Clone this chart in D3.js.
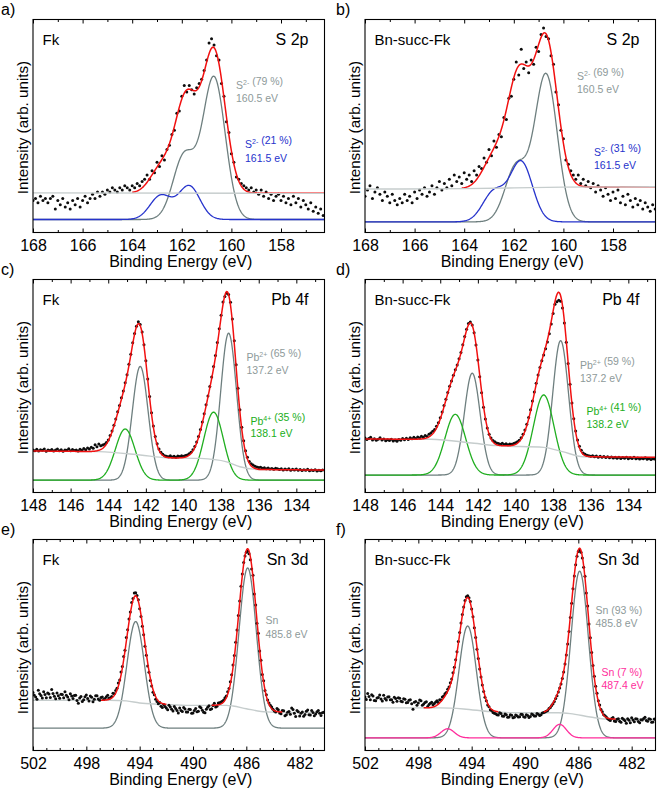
<!DOCTYPE html>
<html><head><meta charset="utf-8">
<script src="https://cdn.jsdelivr.net/npm/d3@7"></script>
<style>
body{margin:0;background:#fff}
svg{display:block}
text{font-family:"Liberation Sans",Arial,Helvetica,sans-serif}
</style>
</head><body>
<svg id="chart" width="660" height="791"></svg>
<script>
// ---------------- DATA (intensity in arb. units, 0-100 of frame height) ----------------
// energy grids: start energy and step (eV) for each panel's measured points
const sStart = 168.0, sStep = 0.1;
const pbStart = 148.0, pbStep = 0.1;
const snStart = 502.0, snStep = 0.1;

// a) S 2p, Fk — measured points
const aDots = [
 15,16,14,17,15,16,14,16,
 17,11,15,13,16,12,14,11,15,13,
 16,12,15,17,14,16,18,16,19,17,
 19,18,20,19,21,20,19,21,20,22,
 21,20,22,21,23,22,24,25,27,25,
 29,28,33,31,36,34,39,41,46,48,
 56,57,64,69,66,69,67,65,68,70,
 72,76,81,89,91,88,83,81,70,64,
 52,47,37,33,26,25,23,22,21,20,
 21,19,20,18,20,17,19,16,18,15,
 17,18,15,17,14,16,13,17,14,16,
 12,15,13,11,14,10,12,9,11,8];
// b) S 2p, Bn-succ-Fk
const bDots = [
 17,20,22,16,19,21,18,15,
 19,17,14,18,15,13,16,14,18,15,
 17,14,19,16,20,18,21,17,19,22,
 18,21,24,20,23,21,25,22,27,24,
 26,23,28,25,27,24,29,27,31,30,
 35,33,39,36,43,40,46,45,54,53,
 63,64,72,80,74,86,77,80,75,81,
 79,87,85,93,96,92,91,83,79,66,
 60,48,44,34,32,29,27,25,27,23,
 25,22,24,21,23,19,22,20,17,21,
 18,15,19,16,20,14,17,13,18,15,
 12,16,13,15,11,14,12,10,13,11];
// c) Pb 4f, Fk
const cDots = [
 20,19.6,20.3,19.5,20.1,19.8,20.4,19.4,20.0,19.7,
 20.2,19.5,19.9,20.4,19.6,20.1,19.4,20.0,19.8,20.5,
 19.6,20.2,19.7,20.0,19.5,20.3,19.8,20.6,20.1,20.9,
 20.4,21.3,20.8,22.4,21.5,22.8,21.9,22.3,22.6,23.5,
 24.6,26.8,28.9,31.6,34.5,37.9,40.8,44.5,47.6,51.5,
 55.3,60.2,64.9,70.3,74.6,78.1,80.2,78.9,75.4,69.4,
 61.8,53.3,45.1,37.4,31.2,26.3,22.9,20.4,18.9,17.9,
 17.3,17.0,16.8,17.2,16.7,17.0,16.6,17.1,16.9,17.3,
 17.0,17.4,17.6,18.2,18.9,20.1,21.6,23.7,26.3,29.6,
 33.1,37.0,41.2,45.3,49.8,54.2,59.1,64.3,70.4,76.9,
 83.2,89.4,92.0,93.6,93.0,89.3,81.4,71.2,60.0,48.9,
 38.9,30.6,24.3,19.6,16.5,14.6,13.5,12.9,12.3,12.0,
 11.7,11.9,11.4,11.6,11.2,11.5,11.0,11.3,10.9,11.4,
 11.1,10.8,11.2,10.6,11.0,10.7,11.1,10.5,10.9,10.6,
 11.0,10.4,10.8,10.3,10.7,10.4,10.9,10.2,10.6,10.3,
 10.7,10.1,10.5,10.2,10.6];
// d) Pb 4f, Bn-succ-Fk
const dDots = [
 25.6,24.9,25.3,25.9,24.7,25.2,24.5,25.0,25.7,24.6,
 25.1,24.3,24.8,24.4,25.0,24.2,24.7,24.1,24.9,24.5,
 25.3,24.8,25.5,24.9,25.7,25.2,25.9,25.4,26.1,25.6,
 26.4,25.9,26.8,26.3,27.4,27.9,28.8,29.6,31.1,32.8,
 35.1,37.8,40.9,43.8,47.0,49.9,52.4,55.1,57.6,59.9,
 62.8,65.7,69.4,73.2,76.6,79.3,80.1,78.6,75.0,69.3,
 62.2,54.4,46.8,40.0,34.5,30.3,27.4,25.6,24.4,23.8,
 23.2,23.0,22.6,23.1,22.5,22.9,22.4,22.8,22.6,23.0,
 23.3,23.8,24.5,25.7,27.3,29.4,32.0,35.2,38.9,43.0,
 47.2,51.3,55.2,58.7,61.8,64.6,67.5,70.6,74.5,79.1,
 84.0,88.4,89.5,90.2,89.8,86.6,79.6,70.5,60.6,50.8,
 42.0,34.6,28.9,24.6,21.7,19.8,18.6,17.9,17.5,17.2,
 17.0,17.3,16.8,17.1,16.6,17.0,16.5,16.9,16.4,16.8,
 16.3,16.7,16.2,16.6,16.1,16.5,16.0,16.4,16.1,16.6,
 15.9,16.3,16.0,16.5,15.8,16.2,15.7,16.1,15.8,16.3,
 15.6,16.0,15.5,15.9,15.7];
// e) Sn 3d, Fk
const eDots = [
 27.5,26.2,25.4,24.3,28.6,26.9,26.1,24.9,27.9,26.5,
 25.0,27.3,26.8,25.1,28.9,27.0,25.7,24.5,27.2,26.0,
 24.8,26.7,26.5,25.0,27.8,26.2,25.3,24.0,26.9,25.8,
 24.6,26.1,26.2,23.7,22.4,24.9,25.6,23.2,24.1,25.5,
 26.3,24.7,23.5,25.8,25.2,23.1,24.3,26.0,25.9,24.4,
 23.8,25.1,25.4,24.2,24.6,25.5,26.2,24.8,25.0,25.6,
 27.1,26.9,28.4,29.5,32.0,33.4,37.2,39.8,44.6,47.5,
 53.5,57.2,62.3,65.6,70.1,72.0,74.6,74.8,73.5,71.4,
 67.2,63.5,58.9,54.8,49.4,45.2,40.1,37.1,33.2,30.6,
 27.6,26.4,24.3,23.2,22.1,22.8,21.0,20.4,21.8,20.9,
 20.2,19.3,21.5,20.6,19.6,18.7,20.8,19.9,18.9,17.8,
 20.1,19.0,18.5,20.4,19.7,18.3,18.2,19.6,19.4,17.6,
 17.8,18.9,19.9,18.4,18.6,20.7,20.3,19.1,18.1,17.9,
 19.6,20.5,21.2,19.4,19.8,21.3,22.4,20.6,21.0,22.5,
 22.6,23.0,23.4,23.9,25.0,25.8,27.8,29.4,32.6,35.9,
 40.5,45.0,51.3,57.1,64.0,70.8,77.9,83.6,89.1,92.2,
 94.0,94.6,93.2,90.4,86.0,83.0,74.2,68.9,60.3,55.6,
 47.2,42.8,36.0,33.0,28.4,26.4,23.9,22.5,21.5,20.6,
 19.6,18.7,18.2,19.9,19.3,17.8,17.4,18.9,18.8,16.5,
 16.9,18.1,18.5,17.2,20.1,19.4,17.6,16.1,19.0,18.4,
 16.4,17.7,18.3,16.2,17.1,18.6,19.2,17.0,16.8,18.9,
 18.0,16.5,17.3,18.4,19.0,17.7,16.6,17.9,18.1];
// f) Sn 3d, Bn-succ-Fk
const fDots = [
 25.3,24.2,27.0,25.6,24.1,26.4,25.8,23.7,23.6,24.9,
 25.1,26.3,24.4,23.5,26.2,24.7,23.9,25.4,25.5,24.1,
 24.0,22.9,25.2,24.6,23.4,25.0,24.8,23.3,23.1,24.5,
 24.3,22.6,22.7,23.8,24.0,22.1,19.6,22.9,23.2,21.5,
 22.5,23.9,23.6,21.4,22.0,22.8,23.1,20.9,21.8,22.4,
 22.9,21.7,22.3,23.0,23.6,22.8,24.0,23.9,25.3,25.8,
 26.9,27.5,29.0,30.1,32.1,33.9,36.8,39.5,43.0,46.8,
 51.6,55.9,60.4,64.5,68.0,71.1,72.9,73.4,72.4,70.6,
 67.1,63.4,58.2,53.5,48.0,43.6,38.6,34.8,31.0,28.0,
 25.2,23.6,21.6,20.7,19.3,19.0,18.0,17.6,17.4,16.9,
 16.8,17.9,17.5,16.4,16.2,17.3,17.0,15.8,15.9,16.9,
 16.7,15.5,15.7,16.8,16.5,15.9,16.0,17.2,17.1,16.0,
 15.8,17.0,16.6,15.6,16.1,17.3,17.0,16.4,16.3,17.5,
 17.2,16.6,16.9,17.8,18.0,18.3,18.6,19.0,19.9,20.4,
 21.3,22.2,23.2,24.6,26.0,27.7,29.6,31.5,34.1,37.2,
 41.0,45.3,50.5,56.4,63.0,69.8,76.6,82.7,88.0,92.1,
 94.3,95.0,94.0,91.2,86.8,82.6,74.6,68.5,60.0,53.4,
 46.4,40.3,35.2,30.4,27.1,23.6,21.6,19.4,18.4,17.0,
 16.5,15.9,15.1,14.6,14.2,15.2,15.6,14.0,13.8,14.8,
 15.0,13.9,13.4,15.3,14.7,14.1,12.9,15.0,14.3,13.1,
 15.5,14.4,13.6,15.1,14.9,13.7,13.2,14.6,14.5,15.2,
 15.7,14.2,13.9,15.0,14.8,13.4,13.5,14.9,14.6];

// fitted components: [centre (eV), height above component baseline, sigma (eV)]
const aGrayPeaks = [[160.7,66.4,0.45],[161.9,30,0.45]];
const aBluePeaks = [[161.7,15.7,0.43],[162.85,11.2,0.43]];
const bGrayPeaks = [[160.7,69,0.45],[161.9,26,0.45]];
const bBluePeaks = [[161.7,28,0.45],[162.8,14,0.45]];
const cGrayPeaks = [[142.3,53.4,0.42],[137.6,69,0.42]];
const cGreenPeaks = [[143.1,24,0.52],[138.4,31.9,0.52]];
const dGrayPeaks = [[142.3,47.8,0.42],[137.6,63.1,0.42]];
const dGreenPeaks = [[143.2,28.5,0.55],[138.5,37.6,0.55]];
const eGrayPeaks = [[494.3,50.5,0.65],[485.9,75.9,0.65]];
const fGrayPeaks = [[494.3,53,0.65],[485.9,79,0.65]];
const fPinkPeaks = [[495.8,4.3,0.5],[487.4,6.4,0.5]];

// component baselines
const componentBase = {a:6.1, b:5.0, c:5.8, d:8.2, e:10.6, f:6.0};

// Shirley backgrounds: [energy, intensity]
const aBg = [[168,18.6],[156.2,18.4]];
const bBg = [[168,20.4],[164,20.6],[160,21.3],[156.2,21.5]];
const cBg = [[148,19.5],[144.5,19.2],[142.3,17.6],[140.9,16.3],[139.1,16.0],[137.7,14.4],[137.0,12.1],[136.0,10.8],[132.4,10.5]];
const dBg = [[148,25.1],[144.5,25.0],[142.2,23.1],[141.0,22.0],[138.5,21.2],[137.5,19.2],[136.4,16.8],[132.4,16.5]];
const eBg = [[502,23.8],[496.25,23.8],[495,23.5],[494,22.5],[492.5,21.9],[490.5,21.4],[487.5,21.4],[487,21.1],[486,19.8],[484.5,18.3],[480,17.9]];
const fBg = [[502,20.2],[496.4,20.2],[494.6,19.7],[492.6,18.4],[490.5,17.9],[487.5,17.9],[486.6,17.5],[485.1,15.9],[483.9,14.9],[480,14.8]];

// fit (envelope) energy windows
const aFit = [[164.0,156.2]];
const bFit = [[164.1,156.2]];
const cFit = [[148,132.4]];
const dFit = [[148,132.4]];
const eFit = [[496.9,492.0],[488.6,483.3]];
const fFit = [[497.6,492.0],[488.6,483.2]];

// tick labels
const sTicks = [168,166,164,162,160,158];
const pbTicks = [148,146,144,142,140,138,136,134];
const snTicks = [502,498,494,490,486,482];

// texts
const panelLetters = ["a)","b)","c)","d)","e)","f)"];
const samples = ["Fk","Bn-succ-Fk"];
const regions = ["S 2p","Pb 4f","Sn 3d"];

// ---------------- STYLE / LAYOUT ----------------
const COL = {red:'#f21010', gray:'#6e7f7f', grayText:'#8e9a9a', bg:'#c6cdcd',
  blue:'#2633cc', green:'#20ae20', pink:'#ff2e9c', dot:'#0d0d0d'};
const colsX = [[33,324.5],[365,655.5]];
const rowsY = [[19.5,232.5],[279.5,492.5],[539.5,750.5]];

const panels = [
 {id:'a', row:0, col:0, x0:sStart, ppe:24.8, step:sStep, dots:aDots, bg:aBg, fit:aFit, ticks:sTicks, bgTop:true,
  comps:[{peaks:aGrayPeaks,color:COL.gray},{peaks:aBluePeaks,color:COL.blue}],
  notes:[{x:236,y:88.5,color:COL.grayText,parts:[['S'],['2-','sup'],[' (79 %)']]},{x:236,y:101.5,color:COL.grayText,parts:[['160.5 eV']]},
         {x:245,y:148,color:COL.blue,parts:[['S'],['2-','sup'],[' (21 %)']]},{x:245,y:161.5,color:COL.blue,parts:[['161.5 eV']]}]},
 {id:'b', row:0, col:1, x0:sStart, ppe:24.8, step:sStep, dots:bDots, bg:bBg, fit:bFit, ticks:sTicks, bgTop:true,
  comps:[{peaks:bGrayPeaks,color:COL.gray},{peaks:bBluePeaks,color:COL.blue}],
  notes:[{x:577,y:79.5,color:COL.grayText,parts:[['S'],['2-','sup'],[' (69 %)']]},{x:577,y:93,color:COL.grayText,parts:[['160.5 eV']]},
         {x:594,y:155.5,color:COL.blue,parts:[['S'],['2-','sup'],[' (31 %)']]},{x:594,y:168.5,color:COL.blue,parts:[['161.5 eV']]}]},
 {id:'c', row:1, col:0, x0:pbStart, ppe:18.81, step:pbStep, dots:cDots, bg:cBg, fit:cFit, ticks:pbTicks, bgTop:false,
  comps:[{peaks:cGrayPeaks,color:COL.gray},{peaks:cGreenPeaks,color:COL.green}],
  notes:[{x:246.5,y:360.5,color:COL.grayText,parts:[['Pb'],['2+','sup'],[' (65 %)']]},{x:246.5,y:374,color:COL.grayText,parts:[['137.2 eV']]},
         {x:250.5,y:424.5,color:COL.green,parts:[['Pb'],['4+','sup'],[' (35 %)']]},{x:250.5,y:437,color:COL.green,parts:[['138.1 eV']]}]},
 {id:'d', row:1, col:1, x0:pbStart, ppe:18.81, step:pbStep, dots:dDots, bg:dBg, fit:dFit, ticks:pbTicks, bgTop:false,
  comps:[{peaks:dGrayPeaks,color:COL.gray},{peaks:dGreenPeaks,color:COL.green}],
  notes:[{x:580,y:368.5,color:COL.grayText,parts:[['Pb'],['2+','sup'],[' (59 %)']]},{x:580,y:382,color:COL.grayText,parts:[['137.2 eV']]},
         {x:586.5,y:415,color:COL.green,parts:[['Pb'],['4+','sup'],[' (41 %)']]},{x:586.5,y:427.7,color:COL.green,parts:[['138.2 eV']]}]},
 {id:'e', row:2, col:0, x0:snStart, ppe:13.333, step:snStep, dots:eDots, bg:eBg, fit:eFit, ticks:snTicks, bgTop:false,
  comps:[{peaks:eGrayPeaks,color:COL.gray}],
  notes:[{x:265.5,y:624,color:COL.grayText,parts:[['Sn']]},{x:265.5,y:638,color:COL.grayText,parts:[['485.8 eV']]}]},
 {id:'f', row:2, col:1, x0:snStart, ppe:13.333, step:snStep, dots:fDots, bg:fBg, fit:fFit, ticks:snTicks, bgTop:false,
  comps:[{peaks:fGrayPeaks,color:COL.gray},{peaks:fPinkPeaks,color:COL.pink}],
  notes:[{x:595.5,y:614,color:COL.grayText,parts:[['Sn (93 %)']]},{x:595.5,y:626.7,color:COL.grayText,parts:[['485.8 eV']]},
         {x:601.5,y:675.5,color:COL.pink,parts:[['Sn (7 %)']]},{x:601.5,y:689,color:COL.pink,parts:[['487.4 eV']]}]}
];

const svg = d3.select('#chart');

function gauss(peaks, e){
  return d3.sum(peaks, p => p[1]*Math.exp(-((e-p[0])*(e-p[0]))/(2*p[2]*p[2])));
}

panels.forEach(drawPanel);

function drawPanel(p){
  const [left,right] = colsX[p.col];
  const [top,bottom] = rowsY[p.row];
  const x1 = p.x0 - (right-left)/p.ppe;
  const x = d3.scaleLinear().domain([p.x0, x1]).range([left, right]);
  const y = d3.scaleLinear().domain([0,100]).range([bottom, top]);
  const bgF = d3.scaleLinear().domain(p.bg.map(d=>d[0])).range(p.bg.map(d=>d[1])).clamp(true);
  const base = componentBase[p.id];
  const g = svg.append('g');
  const clipId = 'clip-'+p.id;
  g.append('clipPath').attr('id',clipId).append('rect')
    .attr('x',left).attr('y',top).attr('width',right-left).attr('height',bottom-top);
  const plot = g.append('g').attr('clip-path',`url(#${clipId})`);
  const line = d3.line().x(d=>x(d[0])).y(d=>y(d[1]));
  const fine = d3.range(0, Math.round((p.x0-x1)/0.02)+2).map(i => p.x0 - i*0.02);

  // components
  p.comps.forEach(c => {
    plot.append('path')
      .attr('d', line(fine.map(e => [e, base + gauss(c.peaks, e)])))
      .attr('fill','none').attr('stroke', c.color).attr('stroke-width', 1.3);
  });
  const drawBg = () => plot.append('path')
    .attr('d', d3.line().x(d=>x(d[0])).y(d=>y(d[1])).curve(d3.curveMonotoneX)(p.bg))
    .attr('fill','none').attr('stroke', COL.bg).attr('stroke-width', 1.4);
  if (!p.bgTop) drawBg();
  // data points
  plot.append('g').selectAll('circle')
    .data(p.dots.map((v,i) => [p.x0 - i*p.step, v]))
    .join('circle')
    .attr('cx', d => x(d[0])).attr('cy', d => y(d[1])).attr('r', 1.5)
    .attr('fill', COL.dot);
  // envelope
  p.fit.forEach(([ea, eb]) => {
    const pts = d3.range(0, Math.round((ea-eb)/0.02)+1).map(i => ea - i*0.02)
      .map(e => [e, bgF(e) + d3.sum(p.comps, c => gauss(c.peaks, e))]);
    plot.append('path').attr('d', line(pts))
      .attr('fill','none').attr('stroke', COL.red).attr('stroke-width', 1.5);
  });
  if (p.bgTop) drawBg();

  // axes
  const majors = p.ticks;
  const minors = d3.range(Math.floor(p.x0), x1, -1).filter(v => !majors.includes(v));
  const fmt = d3.format('d');
  const bAx = g.append('g').attr('transform',`translate(0,${bottom})`)
    .call(d3.axisBottom(x).tickValues(majors).tickSize(-4).tickPadding(7).tickFormat(fmt));
  const bAx2 = g.append('g').attr('transform',`translate(0,${bottom})`)
    .call(d3.axisBottom(x).tickValues(minors).tickSize(-2.5).tickFormat(''));
  const tAx = g.append('g').attr('transform',`translate(0,${top})`)
    .call(d3.axisTop(x).tickValues(majors).tickSize(-4).tickFormat(''));
  const tAx2 = g.append('g').attr('transform',`translate(0,${top})`)
    .call(d3.axisTop(x).tickValues(minors).tickSize(-2.5).tickFormat(''));
  [bAx,bAx2,tAx,tAx2].forEach(a => {
    a.select('.domain').remove();
    a.selectAll('line').attr('stroke','#000').attr('stroke-width',1);
  });
  bAx.selectAll('text').attr('font-size',16).attr('fill','#000')
    .attr('font-family','"Liberation Sans",Arial,sans-serif');

  // frame
  g.append('rect').attr('x',left).attr('y',top).attr('width',right-left).attr('height',bottom-top)
    .attr('fill','none').attr('stroke','#000').attr('stroke-width',1.1);

  // axis titles
  g.append('text').attr('x',(left+right)/2+2).attr('y',bottom+34.5)
    .attr('text-anchor','middle').attr('font-size',16).text('Binding Energy (eV)');
  const ylx = p.col===0 ? 27.5 : 360;
  g.append('text').attr('transform',`translate(${ylx},${top+108}) rotate(-90)`)
    .attr('text-anchor','middle').attr('font-size',15.2).text('Intensity (arb. units)');

  // panel letter, sample, region
  g.append('text').attr('x', p.col===0 ? 1 : 336).attr('y', top-4.5)
    .attr('font-size',16).text(panelLetters[p.row*2+p.col]);
  g.append('text').attr('x', left+9.5).attr('y', top+25.5).attr('font-size',15).text(samples[p.col]);
  g.append('text').attr('x', right-16).attr('y', top+25.5).attr('text-anchor','end')
    .attr('font-size',16).text(regions[p.row]);

  // annotations
  p.notes.forEach(n => {
    const t = g.append('text').attr('x',n.x).attr('y',n.y).attr('font-size',10.5).attr('fill',n.color);
    n.parts.forEach(([s,kind]) => {
      if (kind==='sup') {
        t.append('tspan').attr('font-size',7).attr('dy',-4).text(s);
        t.append('tspan').attr('dy',4).text('');
      } else {
        t.append('tspan').text(s);
      }
    });
  });
}
</script>
</body></html>
